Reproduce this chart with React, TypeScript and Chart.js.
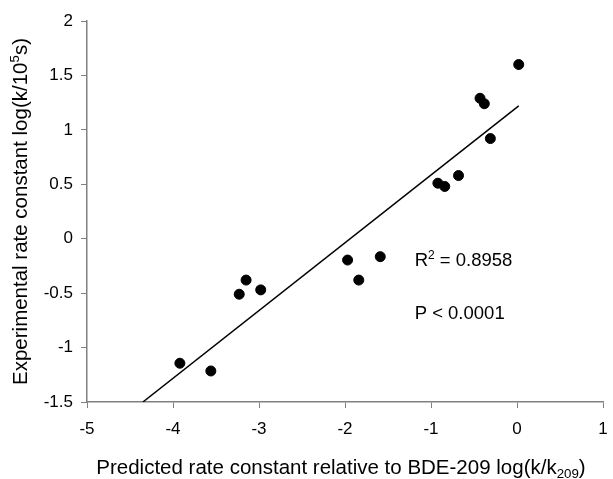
import React, { useEffect, useRef } from "react";
import { Chart, registerables } from "chart.js";

Chart.register(...registerables);

// ---- data ----
const predictedX = [0.02, -0.43, -0.38, -0.31, -0.92, -0.84, -0.68, -1.97, -1.59, -1.84, -3.15, -3.23, -2.98, -3.92, -3.56];
const experimentalY = [1.6, 1.29, 1.24, 0.92, 0.51, 0.48, 0.58, -0.196, -0.165, -0.38, -0.38, -0.51, -0.47, -1.144, -1.215];
const fitX = [-4.35, 0.02];
const fitY = [-1.5, 1.22];
const xTickValues = [-5, -4, -3, -2, -1, 0, 1];
const xTickLabels = ["-5", "-4", "-3", "-2", "-1", "0", "1"];
const yTickValues = [-1.5, -1, -0.5, 0, 0.5, 1, 1.5, 2];
const yTickLabels = ["-1.5", "-1", "-0.5", "0", "0.5", "1", "1.5", "2"];

type Seg = { t: string; s?: "sup" | "sub" };
const xTitle: Seg[] = [{ t: "Predicted rate constant relative to BDE-209 log(k/k" }, { t: "209", s: "sub" }, { t: ")" }];
const yTitle: Seg[] = [{ t: "Experimental rate constant log(k/10" }, { t: "5", s: "sup" }, { t: "s)" }];
const r2Text: Seg[] = [{ t: "R" }, { t: "2", s: "sup" }, { t: " = 0.8958" }];
const pText: Seg[] = [{ t: "P < 0.0001" }];

const FONT = '"Liberation Sans", Arial, sans-serif';
const TICK_SIZE = 17;
const TITLE_SIZE = 20.5;
const NOTE_SIZE = 18.5;

function segWidth(ctx: CanvasRenderingContext2D, segs: Seg[], size: number) {
  let w = 0;
  for (const sg of segs) {
    ctx.font = `${sg.s ? size * 0.65 : size}px ${FONT}`;
    w += ctx.measureText(sg.t).width;
  }
  return w;
}

function drawRich(ctx: CanvasRenderingContext2D, segs: Seg[], x: number, cy: number, size: number, align: "left" | "center") {
  const w = segWidth(ctx, segs, size);
  let cx = align === "center" ? x - w / 2 : x;
  const base = cy + size * 0.35;
  ctx.textAlign = "left";
  ctx.textBaseline = "alphabetic";
  ctx.fillStyle = "#000";
  for (const sg of segs) {
    const sz = sg.s ? size * 0.65 : size;
    ctx.font = `${sz}px ${FONT}`;
    const off = sg.s === "sup" ? -size * 0.38 : sg.s === "sub" ? size * 0.2 : 0;
    ctx.fillText(sg.t, cx, base + off);
    cx += ctx.measureText(sg.t).width;
  }
}

const richPlugin = {
  id: "richText",
  afterDraw(chart: any) {
    const { ctx, chartArea, scales } = chart;
    const xs = scales.x;
    const ys = scales.y;
    ctx.save();
    drawRich(ctx, xTitle, (chartArea.left + chartArea.right) / 2 - 4, 467, TITLE_SIZE, "center");
    ctx.save();
    ctx.translate(20, (chartArea.top + chartArea.bottom) / 2);
    ctx.rotate(-Math.PI / 2);
    drawRich(ctx, yTitle, 0, 0, TITLE_SIZE, "center");
    ctx.restore();
    drawRich(ctx, r2Text, xs.getPixelForValue(-1.19), ys.getPixelForValue(-0.19), NOTE_SIZE, "left");
    drawRich(ctx, pText, xs.getPixelForValue(-1.19), ys.getPixelForValue(-0.675), NOTE_SIZE, "left");
    ctx.restore();
  },
};

export default function App() {
  const ref = useRef<HTMLCanvasElement>(null);
  useEffect(() => {
    const chart = new Chart(ref.current!, {
      type: "scatter",
      data: {
        datasets: [
          {
            label: "Observed",
            data: predictedX.map((x, i) => ({ x, y: experimentalY[i] })),
            backgroundColor: "#000",
            borderColor: "#000",
            pointRadius: 5,
            pointHoverRadius: 5,
          },
          {
            label: "Fit",
            data: fitX.map((x, i) => ({ x, y: fitY[i] })),
            showLine: true,
            borderColor: "#000",
            borderWidth: 1.5,
            pointRadius: 0,
            fill: false,
          } as any,
        ],
      },
      options: {
        animation: false,
        responsive: true,
        maintainAspectRatio: false,
        layout: { padding: { left: 0, right: 10, top: 21, bottom: 0 } },
        plugins: { legend: { display: false }, tooltip: { enabled: false } },
        scales: {
          x: {
            type: "linear",
            min: -5,
            max: 1,
            afterBuildTicks: (s: any) => {
              s.ticks = xTickValues.map((v) => ({ value: v }));
            },
            afterFit: (s: any) => {
              s.height = 77;
              s.paddingLeft = 0;
              s.paddingRight = 0;
            },
            ticks: {
              callback: (v: any) => xTickLabels[xTickValues.indexOf(Number(v))] ?? "",
              color: "#000",
              font: { family: FONT, size: TICK_SIZE },
              padding: 11,
              maxRotation: 0,
            },
            grid: { display: true, drawOnChartArea: false, drawTicks: true, tickLength: 6, color: "#808080" },
            border: { display: true, color: "#808080", width: 1.5 },
          },
          y: {
            type: "linear",
            min: -1.5,
            max: 2,
            afterBuildTicks: (s: any) => {
              s.ticks = yTickValues.map((v) => ({ value: v }));
            },
            afterFit: (s: any) => {
              s.width = 87;
              s.paddingTop = 0;
              s.paddingBottom = 0;
            },
            ticks: {
              callback: (v: any) => yTickLabels[yTickValues.indexOf(Number(v))] ?? "",
              color: "#000",
              font: { family: FONT, size: TICK_SIZE },
              padding: 8,
            },
            grid: { display: true, drawOnChartArea: false, drawTicks: true, tickLength: 6, color: "#808080" },
            border: { display: true, color: "#808080", width: 1.5 },
          },
        },
      },
      plugins: [richPlugin],
    });
    return () => chart.destroy();
  }, []);
  return (
    <div style={{ position: "fixed", left: 0, top: 0, width: 613, height: 479, background: "#fff" }}>
      <canvas ref={ref} />
    </div>
  );
}
